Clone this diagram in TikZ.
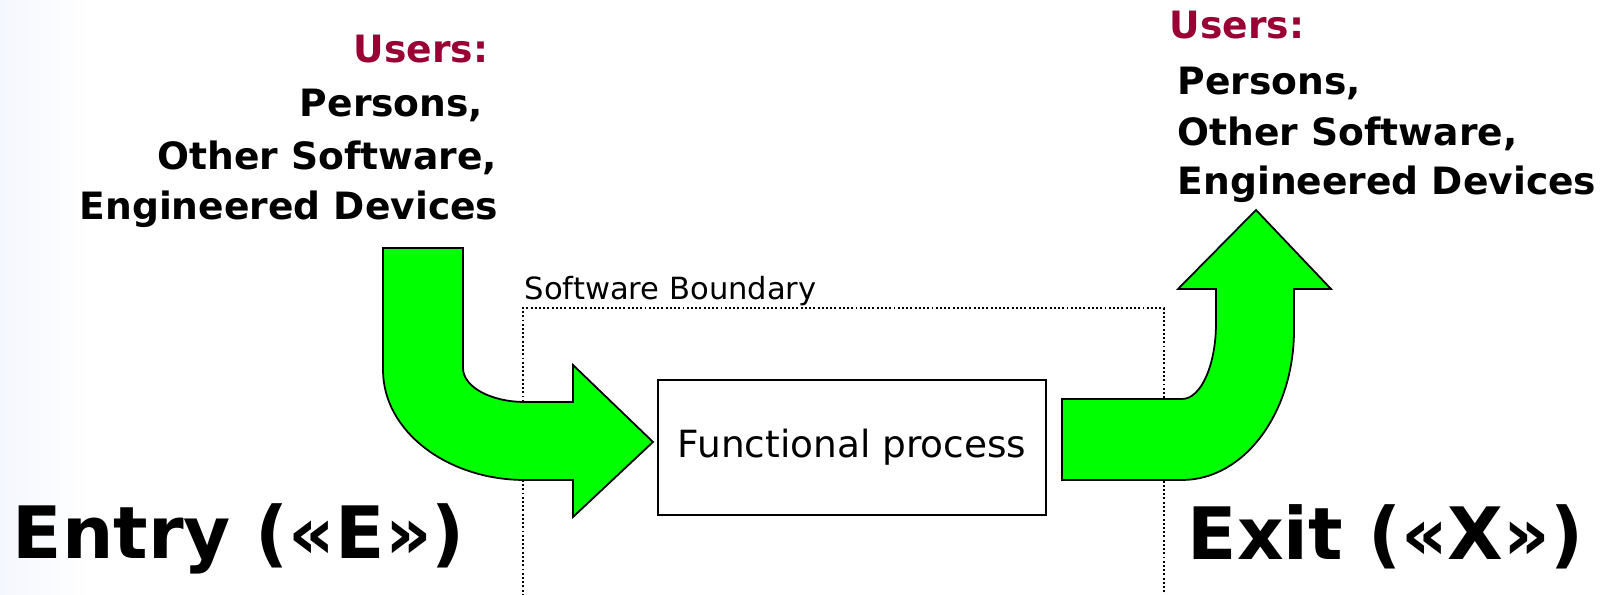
\documentclass[tikz,border=0pt]{standalone}
\usepackage{fontspec}
\setmainfont{DejaVu Sans}
\definecolor{usercol}{RGB}{153,0,51}
\definecolor{flow}{RGB}{0,255,0}
\definecolor{edgetint}{RGB}{245,247,254}
\tikzset{
  usr/.style={inner sep=0pt, font=\fontsize{10.7pt}{12pt}\selectfont\bfseries},
  usrhead/.style={usr, text=usercol},
  bigtitle/.style={inner sep=0pt, font=\fontsize{20.55pt}{24pt}\selectfont\bfseries},
  blockarrow/.style={fill=flow, draw=black, line width=0.5pt, line join=miter},
  procbox/.style={draw, line width=0.55pt, inner sep=0pt, minimum width=3.88cm,
    minimum height=1.35cm, font=\fontsize{10.65pt}{12pt}\selectfont},
  boundary/.style={line width=0.55pt, dash pattern=on 0.55pt off 0.65pt}
}
\begin{document}
\begin{tikzpicture}[x=0.01cm, y=-0.01cm]
\useasboundingbox (0,0) rectangle (1615,595);
% faint tint along the left edge
\shade[left color=edgetint, right color=white] (0,0) rectangle (90,595);

% software boundary (open at the bottom)
\draw[boundary] (523,600) -- (523,308) -- (1164,308) -- (1164,600);
\node[anchor=base west, inner sep=0pt, font=\fontsize{8.7pt}{10pt}\selectfont]
  (bndlabel) at (524,300) {Software Boundary};

% functional process
\node[procbox] (proc) at (852,447.5) {Functional process};

% users on the entry side
\node[usrhead, anchor=base east] (inhead) at (489,63) {Users:};
\node[usr, anchor=base east] (in1) at (484,117) {Persons,};
\node[usr, anchor=base east] (in2) at (498,170) {Other Software,};
\node[usr, anchor=base east] (in3) at (499,220) {Engineered Devices};

% users on the exit side
\node[usrhead, anchor=base west] (outhead) at (1169,39) {Users:};
\node[usr, anchor=base west] (out1) at (1177,95) {Persons,};
\node[usr, anchor=base west] (out2) at (1177,146) {Other Software,};
\node[usr, anchor=base west] (out3) at (1177,195) {Engineered Devices};

% titles
\node[bigtitle, anchor=base west] (entry) at (12,559) {Entry («E»)};
\node[bigtitle, anchor=base west] (exit) at (1187,560) {Exit («X»)};

% entry block arrow: down from the users, bending right into the process
\coordinate (entrytip) at (653,442);
\path[blockarrow]
  (383,248) -- (463,248) -- (463,368)
  .. controls (463,387) and (491,402) .. (525,402)
  -- (573,402) -- (573,365) -- (entrytip) -- (573,517) -- (573,480) -- (525,480)
  .. controls (447,480) and (383,431) .. (383,370) -- cycle;

% exit block arrow: out of the process, bending up to the users
\coordinate (exittip) at (1256,210);
\path[blockarrow]
  (1062,399) -- (1182,399)
  .. controls (1201,399) and (1216,365) .. (1216,323)
  -- (1216,289) -- (1178,289) -- (exittip) -- (1331,289) -- (1294,289) -- (1294,330)
  .. controls (1294,413) and (1244,480) .. (1182,480)
  -- (1062,480) -- cycle;
\end{tikzpicture}
\end{document}
